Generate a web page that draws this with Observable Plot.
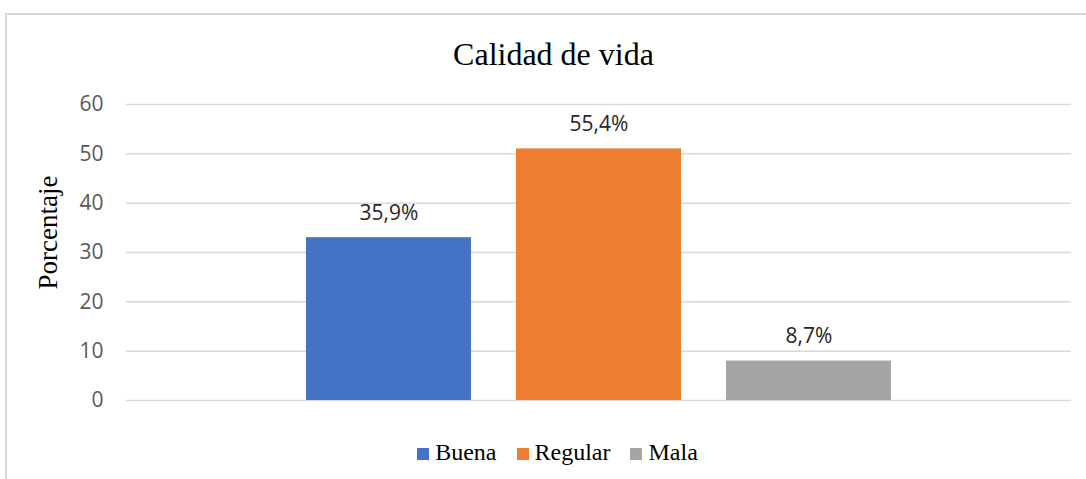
<!DOCTYPE html>
<html>
<head>
<meta charset="utf-8">
<script src="https://cdn.jsdelivr.net/npm/d3@7"></script>
<script src="https://cdn.jsdelivr.net/npm/@observablehq/plot@0.6"></script>
<style>
  html, body { margin: 0; padding: 0; background: #fff; width: 1086px; height: 479px; overflow: hidden; }
  #frame { position: absolute; left: 5px; top: 13px; width: 1100px; height: 480px; border-top: 2px solid #d9d9d9; border-left: 2px solid #d9d9d9; box-sizing: border-box; }
  #title { position: absolute; left: 5px; width: 1097px; top: 38px; text-align: center; font-family: "Liberation Serif", serif; font-size: 32px; line-height: 1; color: #000; }
  #chart { position: absolute; left: 0; top: 0; }
  #legend { position: absolute; left: 9px; width: 1097px; top: 440px; display: flex; justify-content: center; font-family: "Liberation Serif", serif; font-size: 24px; line-height: 1; color: #000; }
  .item { display: flex; align-items: baseline; margin: 0 10px; }
  .sw { display: inline-block; width: 12px; height: 12px; margin-right: 6px; position: relative; top: 0px; }
</style>
</head>
<body>
<div id="frame"></div>
<div id="title"></div>
<div id="chart"></div>
<div id="legend"></div>
<script>
const title = "Calidad de vida";
const yLabel = "Porcentaje";
const categories = ["Buena", "Regular", "Mala"];
const counts = [33, 51, 8];
const valueLabels = ["35,9%", "55,4%", "8,7%"];
const colors = ["#4472C4", "#ED7D31", "#A5A5A5"];
const yTicks = [0, 10, 20, 30, 40, 50, 60];

const data = categories.map((c, i) => ({cat: c, value: counts[i], label: valueLabels[i]}));

document.getElementById("title").textContent = title;

const chart = Plot.plot({
  width: 1086,
  height: 479,
  marginLeft: 126,
  marginRight: 15,
  marginTop: 104,
  marginBottom: 79,
  style: {background: "transparent", fontFamily: "'Open Sans', sans-serif", overflow: "visible"},
  x: {domain: categories, paddingInner: 0.214, paddingOuter: 0.857, axis: null},
  y: {domain: [0, 60], axis: null},
  color: {domain: categories, range: colors},
  marks: [
    Plot.ruleY(yTicks, {stroke: "#d9d9d9", strokeWidth: 1.5}),
    Plot.barY(data, {x: "cat", y: "value", fill: "cat"}),
    Plot.text(data, {x: "cat", y: "value", text: "label", lineAnchor: "bottom", dy: -18, fontSize: 21, fill: "#262626"}),
    Plot.axisY({ticks: yTicks, tickSize: 0, tickPadding: 23, fontSize: 21, fill: "#595959", label: null}),
    Plot.text([yLabel], {frameAnchor: "left", textAnchor: "middle", lineAnchor: "middle", rotate: -90, dx: -78, dy: -20, fontSize: 27, fontFamily: "'Liberation Serif', serif", fill: "#000"})
  ]
});
document.getElementById("chart").appendChild(chart);

const legend = document.getElementById("legend");
categories.forEach((c, i) => {
  const item = document.createElement("div");
  item.className = "item";
  const sw = document.createElement("span");
  sw.className = "sw";
  sw.style.background = colors[i];
  const t = document.createElement("span");
  t.textContent = c;
  item.appendChild(sw);
  item.appendChild(t);
  legend.appendChild(item);
});
</script>
</body>
</html>
